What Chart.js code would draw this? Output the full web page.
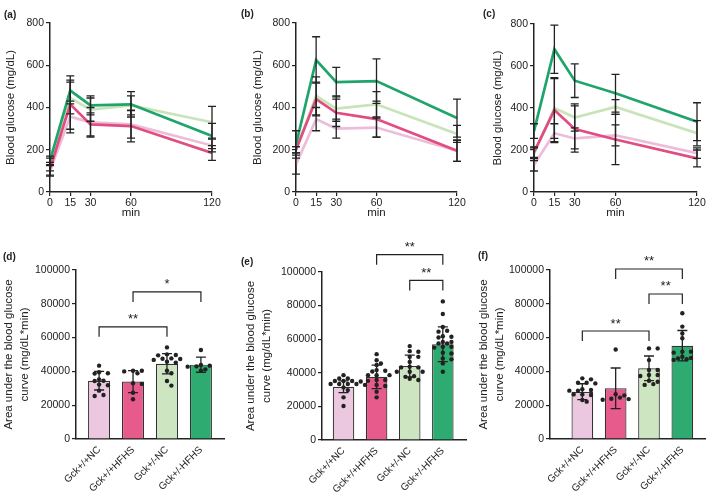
<!DOCTYPE html>
<html>
<head>
<meta charset="utf-8">
<script src="https://cdn.jsdelivr.net/npm/chart.js@4.4.1/dist/chart.umd.min.js"></script>
<style>
  body { margin: 0; background: #fff; width: 709px; height: 492px; position: relative; overflow: hidden;
         font-family: 'Liberation Sans', Arial, sans-serif; }
  canvas { position: absolute; }
  .tag { position: absolute; font-weight: bold; font-size: 10px; line-height: 1; color: #222; }
</style>
</head>
<body>
<canvas id="a" width="235" height="230" style="left:0;top:0"></canvas>
<canvas id="b" width="235" height="230" style="left:235px;top:0"></canvas>
<canvas id="c" width="239" height="230" style="left:470px;top:0"></canvas>
<canvas id="d" width="235" height="262" style="left:0;top:230px"></canvas>
<canvas id="e" width="235" height="262" style="left:235px;top:230px"></canvas>
<canvas id="f" width="239" height="262" style="left:470px;top:230px"></canvas>
<div class="tag" style="left:4px;top:10px">(a)</div>
<div class="tag" style="left:241px;top:9px">(b)</div>
<div class="tag" style="left:483px;top:9px">(c)</div>
<div class="tag" style="left:3px;top:252px">(d)</div>
<div class="tag" style="left:241px;top:257px">(e)</div>
<div class="tag" style="left:478px;top:251px">(f)</div>
<script>
const times = [0, 15, 30, 60, 120];
const groups = ['Gck+/+NC', 'Gck+/+HFHS', 'Gck+/-NC', 'Gck+/-HFHS'];

// blood glucose (mg/dL), rows follow groups
const glucoseA = [[100, 357, 330, 320, 220], [110, 415, 320, 312, 185], [130, 445, 390, 410, 330], [150, 480, 410, 415, 265]];
const sdA      = [[25, 60, 70, 65, 30], [30, 135, 55, 75, 35], [30, 75, 55, 45, 75], [20, 50, 45, 60, 60]];
const glucoseB = [[130, 345, 300, 305, 195], [200, 440, 375, 345, 195], [200, 455, 395, 415, 275], [225, 625, 520, 525, 350]];
const sdB      = [[45, 55, 45, 45, 50], [15, 80, 65, 85, 50], [15, 90, 60, 60, 40], [65, 110, 70, 105, 90]];
const glucoseC = [[130, 280, 255, 270, 185], [190, 390, 300, 250, 160], [180, 400, 355, 405, 280], [290, 680, 530, 470, 335]];
const sdC      = [[30, 45, 50, 50, 25], [25, 150, 110, 120, 40], [30, 145, 65, 35, 60], [35, 115, 80, 90, 90]];

// area under the curve (mg/dL*min)
const aucMeanD = [34500, 34000, 44500, 44000];
const aucSdD   = [5500, 6500, 6000, 4500];
const aucDotsD = [
  [43400, 38900, 39500, 38700, 34500, 35300, 34300, 31800, 32200, 28600, 25400, 26000],
  [40400, 40400, 38900, 40000, 33000, 32600, 27400, 23500],
  [54200, 49700, 50100, 49500, 47300, 47700, 46800, 47500, 45200, 45700, 40400, 38900, 34300, 31600],
  [52700, 43400, 42800, 43800, 41200, 40400, 43000]
];
const aucMeanE = [31700, 37600, 44000, 57000];
const aucSdE   = [3500, 7000, 6500, 10300];
const aucDotsE = [
  [38600, 36600, 36600, 35100, 35100, 35100, 34800, 33300, 33300, 33300, 33300, 32800, 31300, 29700, 25400, 20200],
  [51100, 47500, 44600, 45600, 41200, 41600, 40800, 38600, 38600, 38600, 35700, 35200, 35700, 32700, 32100, 28700, 25400],
  [55900, 52900, 52500, 49500, 49500, 46500, 43600, 43200, 43200, 40600, 40600, 40600, 38000, 37600, 35700, 36500],
  [82500, 75000, 67300, 65000, 64500, 61800, 61000, 61500, 58400, 58400, 57400, 57400, 55500, 55500, 55000, 51900, 51500, 48500, 48000, 45600, 40600]
];
const aucMeanF = [28000, 30000, 41800, 55200];
const aucSdF   = [4700, 12000, 7300, 9000];
const aucDotsF = [
  [35900, 35300, 33300, 32900, 33300, 29000, 28600, 29400, 28600, 26400, 26000, 26400, 22100, 23100],
  [53000, 26500, 25800, 23800, 23200, 23600, 24500],
  [53600, 53600, 46700, 40800, 40800, 37900, 37300, 37900, 33900, 34500, 32000, 32500],
  [74400, 66500, 62500, 59600, 51700, 51100, 51700, 48700, 47700, 47200, 48000, 46800]
];

// significance brackets: [from group, to group, height, label]
const sigD = [[0, 2, 66400, '**'], [1, 3, 87000, '*']];
const sigE = [[1, 3, 110300, '**'], [2, 3, 95000, '**']];
const sigF = [[1, 3, 100600, '**'], [2, 3, 85800, '**'], [0, 2, 63900, '**']];

const lineColors = ['#EDBCDB', '#E14D80', '#C8E4B8', '#1FA56B'];
const barColors = ['#EBC7E0', '#E65B8C', '#CDE6C1', '#2DAB70'];
const ink = '#222';
const FONT = "'Liberation Sans', Arial, sans-serif";

Chart.defaults.font.family = FONT;
Chart.defaults.color = ink;
Chart.defaults.animation = false;
Chart.defaults.plugins.legend.display = false;
Chart.defaults.plugins.tooltip.enabled = false;

const errorBars = {
  id: 'errorBars',
  afterDatasetsDraw(chart) {
    const { ctx } = chart;
    const ys = chart.scales.y;
    chart.data.datasets.forEach((ds, i) => {
      if (!ds.errors) return;
      const meta = chart.getDatasetMeta(i);
      ctx.save();
      ctx.strokeStyle = ink;
      ctx.lineWidth = 1.3;
      meta.data.forEach((el, j) => {
        const v = ds.data[j].y, e = ds.errors[j], w = ds.capHalf;
        const top = ys.getPixelForValue(v + e), bot = ys.getPixelForValue(v - e);
        ctx.beginPath();
        ctx.moveTo(el.x, top); ctx.lineTo(el.x, bot);
        ctx.moveTo(el.x - w, top); ctx.lineTo(el.x + w, top);
        ctx.moveTo(el.x - w, bot); ctx.lineTo(el.x + w, bot);
        ctx.stroke();
      });
      ctx.restore();
    });
  }
};

const brackets = {
  id: 'brackets',
  afterDraw(chart, args, opts) {
    if (!opts || !opts.items) return;
    const { ctx, scales: { x, y } } = chart;
    ctx.save();
    ctx.strokeStyle = ink;
    ctx.fillStyle = ink;
    ctx.lineWidth = 1.2;
    ctx.font = '13px ' + FONT;
    ctx.textAlign = 'center';
    opts.items.forEach(([from, to, level, mark]) => {
      const x1 = x.getPixelForValue(from), x2 = x.getPixelForValue(to), yy = y.getPixelForValue(level);
      ctx.beginPath();
      ctx.moveTo(x1, yy + 10); ctx.lineTo(x1, yy); ctx.lineTo(x2, yy); ctx.lineTo(x2, yy + 10);
      ctx.stroke();
      ctx.fillText(mark, (x1 + x2) / 2, yy - 3.5);
    });
    ctx.restore();
  }
};
Chart.register(errorBars, brackets);

function axisBase(fit) {
  return {
    afterFit: fit,
    border: { display: true, color: ink, width: 1.5 },
    grid: { drawOnChartArea: false, drawTicks: true, tickLength: 4, color: ink, lineWidth: 1.2 },
  };
}

function linePanel(id, geo, means, sds) {
  // green on top, light pink at the back
  const datasets = [3, 1, 2, 0].map(g => ({
    label: groups[g],
    data: times.map((t, i) => ({ x: t, y: means[g][i] })),
    errors: sds[g],
    capHalf: 4,
    borderColor: lineColors[g],
    borderWidth: 2.7,
    pointRadius: 0,
    tension: 0,
    fill: false
  }));
  new Chart(document.getElementById(id), {
    type: 'line',
    data: { datasets },
    options: {
      responsive: false,
      layout: { padding: { left: 0, top: geo.top, right: geo.right, bottom: geo.bottom } },
      scales: {
        x: Object.assign(axisBase(s => { s.height = geo.xh; }), {
          type: 'linear', min: 0, max: 120, offset: false,
          afterBuildTicks: s => { s.ticks = times.map(v => ({ value: v })); },
          ticks: { font: { size: 10.5 }, color: ink, padding: 1, maxRotation: 0 },
          title: { display: true, text: 'min', font: { size: 11.5 }, color: ink, padding: 0 }
        }),
        y: Object.assign(axisBase(s => { s.width = geo.yw; }), {
          min: 0, max: 800,
          ticks: { stepSize: 200, font: { size: 10.5 }, color: ink, padding: 2 },
          title: { display: true, text: 'Blood glucose (mg/dL)', font: { size: 11.5 }, color: ink,
                   padding: { top: geo.titlePad, bottom: 0 } }
        })
      }
    }
  });
}

// spread the dots of one group sideways so they do not overlap
function swarm(values) {
  const placed = [];
  const step = 0.13, minDist = 4.6, pxX = 34, pxY = 169 / 100000;
  values.slice().sort((p, q) => q - p).forEach(v => {
    for (let k = 0; k < 30; k++) {
      const off = (k % 2 ? 1 : -1) * Math.ceil(k / 2) * step;
      const hit = placed.some(p => Math.hypot((p.dx - off) * pxX, (p.y - v) * pxY) < minDist);
      if (!hit) { placed.push({ dx: off, y: v }); break; }
    }
  });
  return placed;
}

function barPanel(id, geo, means, sds, dots, marks) {
  const points = [];
  dots.forEach((vals, g) => swarm(vals).forEach(p => points.push({ x: g + p.dx, y: p.y })));
  new Chart(document.getElementById(id), {
    type: 'bar',
    data: {
      datasets: [
        { type: 'scatter', data: points, pointRadius: 2.2, pointBackgroundColor: ink, pointBorderWidth: 0, order: 1 },
        { data: means.map((m, g) => ({ x: g, y: m })), errors: sds, capHalf: 5,
          backgroundColor: barColors, borderColor: '#333', borderWidth: 1.2,
          categoryPercentage: 0.65, barPercentage: 1, order: 2 }
      ]
    },
    options: {
      responsive: false,
      layout: { padding: { left: 0, top: geo.top, right: geo.right, bottom: geo.bottom } },
      plugins: { brackets: { items: marks } },
      scales: {
        x: Object.assign(axisBase(s => { s.height = geo.xh; }), {
          type: 'linear', min: geo.xmin, max: geo.xmax, offset: false,
          grid: { drawOnChartArea: false, drawTicks: false, offset: false },
          afterBuildTicks: s => { s.ticks = groups.map((g, i) => ({ value: i })); },
          ticks: { font: { size: 10 }, color: ink, padding: 5, autoSkip: false,
                   minRotation: 45, maxRotation: 45, callback: v => groups[v] }
        }),
        y: Object.assign(axisBase(s => { s.width = geo.yw; }), {
          min: 0, max: 100000,
          ticks: { stepSize: 20000, font: { size: 10.5 }, color: ink, padding: 2, callback: v => String(v) },
          title: { display: true, text: ['Area under the blood glucose', 'curve (mg/dL*min)'],
                   font: { size: 11.5, lineHeight: 1.45 }, color: ink, padding: { top: geo.titlePad, bottom: 0 } }
        })
      }
    }
  });
}

linePanel('a', { yw: 50, top: 23, right: 23, xh: 28, bottom: 10, titlePad: 4 }, glucoseA, sdA);
linePanel('b', { yw: 61, top: 23, right: 13, xh: 28, bottom: 10, titlePad: 16 }, glucoseB, sdB);
linePanel('c', { yw: 64, top: 24, right: 12, xh: 28, bottom: 10, titlePad: 21 }, glucoseC, sdC);
barPanel('d', { yw: 76, top: 40, right: 11, xh: 53, bottom: 0, titlePad: 0, xmin: -0.68, xmax: 3.68 }, aucMeanD, aucSdD, aucDotsD, sigD);
barPanel('e', { yw: 87, top: 42, right: 0, xh: 52, bottom: 0, titlePad: 7, xmin: -0.65, xmax: 3.70 }, aucMeanE, aucSdE, aucDotsE, sigE);
barPanel('f', { yw: 80, top: 40, right: 1, xh: 53, bottom: 0, titlePad: 5, xmin: -0.97, xmax: 3.68 }, aucMeanF, aucSdF, aucDotsF, sigF);
</script>
</body>
</html>
